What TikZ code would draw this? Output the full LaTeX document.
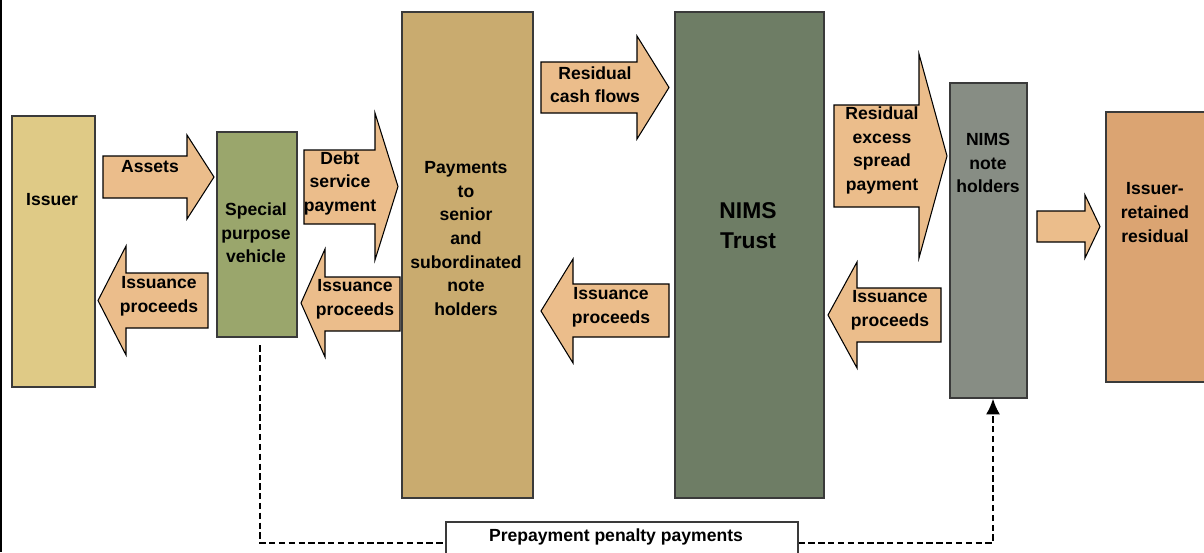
\documentclass[tikz,border=0pt]{standalone}
\usepackage{fontspec}
\setmainfont{Liberation Sans}
\usetikzlibrary{arrows.meta,fit}

\definecolor{issuerfill}{HTML}{DFCA86}
\definecolor{spvfill}{HTML}{9AA66C}
\definecolor{payfill}{HTML}{C9AB6F}
\definecolor{trustfill}{HTML}{6E7D65}
\definecolor{holderfill}{HTML}{878D84}
\definecolor{retainfill}{HTML}{DBA472}
\definecolor{flowfill}{HTML}{EBBD8B}
\definecolor{boxline}{HTML}{3A3A3A}

\tikzset{
  box/.style={draw=boxline,line width=0.6pt,inner sep=0pt},
  flow/.style={draw=black,line width=0.6pt,fill=flowfill},
  boxtext/.style={font=\bfseries\fontsize{10}{13.4}\selectfont,align=center,inner sep=0pt},
  penaltylink/.style={line width=1.3pt,dash pattern=on 3.6pt off 2pt}
}

% block arrow: shaft end, head base, tip, head top, shaft top, shaft bottom, head bottom
\newcommand{\flowshape}[7]{%
  \draw[flow] (#1,#5) -- (#2,#5) -- (#2,#4) -- (#3,{(#4+#7)/2}) -- (#2,#7)
    -- (#2,#6) -- (#1,#6) -- cycle;}

\begin{document}
\begin{tikzpicture}[x=0.02cm,y=-0.02cm]
  \useasboundingbox (0,0) rectangle (1204,552);
  \clip (0,0) rectangle (1204,552);
  \draw[line width=1.1pt] (1,0) -- (1,552);

  % parties
  \node[box,fill=issuerfill,fit={(12,116) (95,387)}] (issuer) {};
  \node[box,fill=spvfill,fit={(217,132) (297,337)}] (spv) {};
  \node[box,fill=payfill,fit={(402,12) (533,498)}] (payments) {};
  \node[box,fill=trustfill,fit={(675,12) (824,498)}] (trust) {};
  \node[box,fill=holderfill,fit={(950,83) (1027,398)}] (holders) {};
  \node[box,fill=retainfill,fit={(1106,112) (1210,382)}] (retained) {};
  \node[box,draw=boxline,fill=white,fit={(446,522) (798,564)}] (penalty) {};

  % flows
  \flowshape{103}{187}{214}{135}{156}{198}{219}
  \flowshape{208}{126}{98}{246}{273}{328}{355}
  \flowshape{304}{375}{398}{113}{150}{224}{260}
  \flowshape{400}{325}{301}{249}{277}{331}{357}
  \flowshape{541}{637}{669}{36}{62}{113}{139}
  \flowshape{669}{573}{541}{259}{284}{337}{363}
  \flowshape{834}{919}{947}{54}{105}{207}{258}
  \flowshape{941}{857}{828}{262}{288}{342}{368}
  \flowshape{1037}{1085}{1100}{195}{211}{242}{258}

  \begin{scope}[every node/.style={boxtext}]
    \node (issuertext) at (52,200) {Issuer};
    \node (spvtext) at (256,233) {Special\\purpose\\vehicle};
    \node (paytext) at (466,238.5) {Payments\\to\\senior\\and\\subordinated\\note\\holders};
    \node[font=\bfseries\fontsize{13}{17}\selectfont] (trusttext) at (748,226) {NIMS\\Trust};
    \node (holdertext) at (988,163) {NIMS\\note\\holders};
    \node (retaintext) at (1155,212.5) {Issuer-\\retained\\residual};
    \node (assets) at (150,167) {Assets};
    \node (proceeds1) at (159,296) {Issuance\\proceeds};
    \node (debt) at (340,183) {Debt\\service\\payment};
    \node (proceeds2) at (355,299) {Issuance\\proceeds};
    \node (cashflows) at (595,84.5) {Residual\\cash flows};
    \node (proceeds3) at (611,307.5) {Issuance\\proceeds};
    \node (excess) at (882,150.5) {Residual\\excess\\spread\\payment};
    \node (proceeds4) at (890,310.5) {Issuance\\proceeds};
    \node (penaltytext) at (616,537) {Prepayment penalty payments};
  \end{scope}

  \draw[penaltylink,shorten <=4.5pt] ([xshift=0.06cm]spv.south) |- (penalty.west);
  \draw[penaltylink,-{Latex[length=9pt,width=8pt]}] (penalty.east) -| ([xshift=0.09cm]holders.south);
\end{tikzpicture}
\end{document}
